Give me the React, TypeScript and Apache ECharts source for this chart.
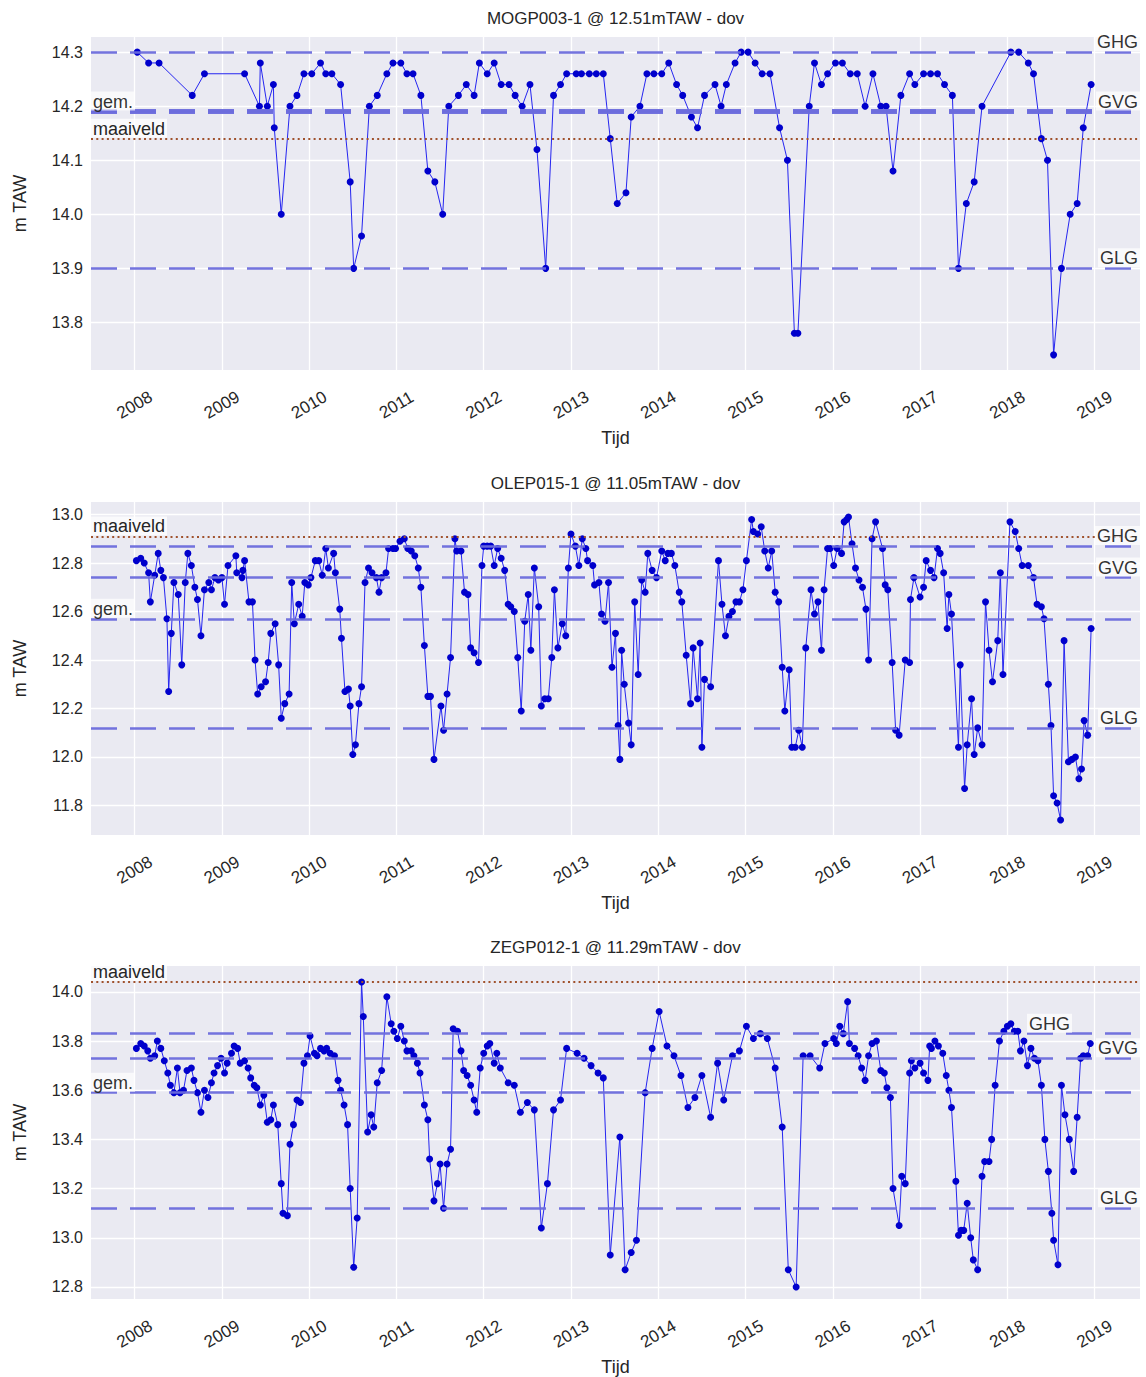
import React, { useEffect, useRef } from "react";
import * as echarts from "echarts";

const FONT = "'Liberation Sans', Arial, Helvetica, sans-serif";
const TEXT = "#262626";

const titles = [
  "MOGP003-1 @ 12.51mTAW - dov",
  "OLEP015-1 @ 11.05mTAW - dov",
  "ZEGP012-1 @ 11.29mTAW - dov",
];
const xName = "Tijd";
const yName = "m TAW";

// reference levels: GHG, GVG, gem., maaiveld, GLG
const refNames = ["GHG", "GVG", "gem.", "maaiveld", "GLG"];
const refs1 = [14.3, 14.194, 14.194, 14.14, 13.9];
const refs2 = [12.87, 12.74, 12.57, 12.91, 12.12];
const refs3 = [13.83, 13.73, 13.59, 14.04, 13.12];

const yMins = [13.712, 11.678, 12.751];
const yMaxs = [14.328, 13.052, 14.105];
const xMin = 2007.5;
const xMax = 2019.52;

// decimal years and measured levels (m TAW)
const dates1 = [
  2008.03, 2008.16, 2008.28, 2008.66, 2008.8, 2009.26, 2009.43, 2009.44, 2009.52, 2009.59,
  2009.6, 2009.68, 2009.78, 2009.86, 2009.94, 2010.03, 2010.13, 2010.19, 2010.26, 2010.36,
  2010.47, 2010.51, 2010.6, 2010.69, 2010.78, 2010.89, 2010.96, 2011.05, 2011.12, 2011.19,
  2011.28, 2011.36, 2011.44, 2011.53, 2011.6, 2011.71, 2011.8, 2011.89, 2011.95, 2012.04,
  2012.12, 2012.2, 2012.29, 2012.36, 2012.44, 2012.53, 2012.61, 2012.71, 2012.8, 2012.88,
  2012.95, 2013.06, 2013.12, 2013.21, 2013.29, 2013.37, 2013.45, 2013.53, 2013.63, 2013.69,
  2013.79, 2013.87, 2013.95, 2014.04, 2014.12, 2014.21, 2014.28, 2014.38, 2014.45, 2014.53,
  2014.65, 2014.72, 2014.78, 2014.88, 2014.95, 2015.03, 2015.11, 2015.19, 2015.28, 2015.39,
  2015.48, 2015.56, 2015.6, 2015.73, 2015.79, 2015.87, 2015.94, 2016.03, 2016.11, 2016.2,
  2016.28, 2016.37, 2016.46, 2016.55, 2016.61, 2016.69, 2016.78, 2016.88, 2016.94, 2017.04,
  2017.12, 2017.2, 2017.28, 2017.37, 2017.44, 2017.53, 2017.62, 2017.71, 2018.04, 2018.13,
  2018.24, 2018.3, 2018.39, 2018.46, 2018.53, 2018.62, 2018.72, 2018.8, 2018.87, 2018.96,
];
const levels1 = [
  14.3, 14.28, 14.28, 14.22, 14.26, 14.26, 14.2, 14.28, 14.2, 14.24,
  14.16, 14.0, 14.2, 14.22, 14.26, 14.26, 14.28, 14.26, 14.26, 14.24,
  14.06, 13.9, 13.96, 14.2, 14.22, 14.26, 14.28, 14.28, 14.26, 14.26,
  14.22, 14.08, 14.06, 14.0, 14.2, 14.22, 14.24, 14.22, 14.28, 14.26,
  14.28, 14.24, 14.24, 14.22, 14.2, 14.24, 14.12, 13.9, 14.22, 14.24,
  14.26, 14.26, 14.26, 14.26, 14.26, 14.26, 14.14, 14.02, 14.04, 14.18,
  14.2, 14.26, 14.26, 14.26, 14.28, 14.24, 14.22, 14.18, 14.16, 14.22,
  14.24, 14.2, 14.24, 14.28, 14.3, 14.3, 14.28, 14.26, 14.26, 14.16,
  14.1, 13.78, 13.78, 14.2, 14.28, 14.24, 14.26, 14.28, 14.28, 14.26,
  14.26, 14.2, 14.26, 14.2, 14.2, 14.08, 14.22, 14.26, 14.24, 14.26,
  14.26, 14.26, 14.24, 14.22, 13.9, 14.02, 14.06, 14.2, 14.3, 14.3,
  14.28, 14.26, 14.14, 14.1, 13.74, 13.9, 14.0, 14.02, 14.16, 14.24,
];

const dates2 = [
  2008.02, 2008.07, 2008.11, 2008.16, 2008.18, 2008.23, 2008.27, 2008.3, 2008.33, 2008.37,
  2008.39, 2008.42, 2008.45, 2008.5, 2008.54, 2008.58, 2008.61, 2008.65, 2008.69, 2008.72,
  2008.76, 2008.8, 2008.85, 2008.88, 2008.92, 2008.96, 2009.0, 2009.03, 2009.07, 2009.16,
  2009.17, 2009.23, 2009.24, 2009.26, 2009.31, 2009.35, 2009.38, 2009.41, 2009.45, 2009.5,
  2009.53, 2009.56, 2009.61, 2009.65, 2009.68, 2009.72, 2009.77, 2009.8, 2009.83, 2009.88,
  2009.92, 2009.95, 2009.99, 2010.02, 2010.07, 2010.11, 2010.15, 2010.19, 2010.22, 2010.28,
  2010.3, 2010.35, 2010.37, 2010.41, 2010.45, 2010.47, 2010.5, 2010.53, 2010.57, 2010.6,
  2010.64, 2010.68, 2010.72, 2010.77, 2010.8, 2010.83, 2010.88, 2010.91, 2010.96, 2010.99,
  2011.04, 2011.09, 2011.13, 2011.17, 2011.21, 2011.25, 2011.28, 2011.32, 2011.36, 2011.39,
  2011.43, 2011.51, 2011.54, 2011.58, 2011.62, 2011.67, 2011.69, 2011.74, 2011.78, 2011.82,
  2011.85, 2011.89, 2011.94, 2011.98, 2012.0, 2012.04, 2012.08, 2012.12, 2012.16, 2012.2,
  2012.24, 2012.28, 2012.31, 2012.35, 2012.39, 2012.43, 2012.47, 2012.51, 2012.54, 2012.58,
  2012.63, 2012.66, 2012.7, 2012.74, 2012.78, 2012.81, 2012.85, 2012.9, 2012.94, 2012.97,
  2013.0, 2013.05, 2013.09, 2013.13, 2013.17, 2013.19, 2013.25, 2013.27, 2013.32, 2013.35,
  2013.39, 2013.43, 2013.47, 2013.51, 2013.54, 2013.56, 2013.58, 2013.61, 2013.66, 2013.69,
  2013.73, 2013.77, 2013.81, 2013.85, 2013.88, 2013.93, 2013.98, 2014.04, 2014.08, 2014.11,
  2014.15, 2014.19, 2014.24, 2014.27, 2014.32, 2014.37, 2014.4, 2014.45, 2014.48, 2014.5,
  2014.53, 2014.6, 2014.69, 2014.73, 2014.77, 2014.81, 2014.85, 2014.89, 2014.93, 2014.97,
  2015.01, 2015.07, 2015.09, 2015.14, 2015.18, 2015.22, 2015.26, 2015.3, 2015.34, 2015.38,
  2015.42, 2015.45, 2015.5, 2015.53, 2015.57, 2015.61, 2015.65, 2015.69, 2015.75, 2015.79,
  2015.83, 2015.87, 2015.9, 2015.94, 2015.97, 2016.01, 2016.05, 2016.1, 2016.13, 2016.16,
  2016.18, 2016.22, 2016.26, 2016.3, 2016.34, 2016.38, 2016.41, 2016.45, 2016.49, 2016.57,
  2016.6, 2016.63, 2016.68, 2016.72, 2016.76, 2016.83, 2016.88, 2016.89, 2016.93, 2017.0,
  2017.04, 2017.07, 2017.12, 2017.16, 2017.2, 2017.23, 2017.27, 2017.31, 2017.33, 2017.36,
  2017.44, 2017.46, 2017.51, 2017.54, 2017.59, 2017.62, 2017.66, 2017.71, 2017.75, 2017.79,
  2017.83, 2017.89, 2017.92, 2017.95, 2018.03, 2018.09, 2018.13, 2018.17, 2018.24, 2018.3,
  2018.34, 2018.39, 2018.42, 2018.47, 2018.5, 2018.53, 2018.57, 2018.61, 2018.65, 2018.7,
  2018.74, 2018.78, 2018.82, 2018.85, 2018.88, 2018.92, 2018.96,
];
const levels2 = [
  12.81, 12.82, 12.8, 12.76, 12.64, 12.75, 12.84, 12.77, 12.74, 12.57,
  12.27, 12.51, 12.72, 12.67, 12.38, 12.72, 12.84, 12.79, 12.7, 12.65,
  12.5, 12.69, 12.72, 12.69, 12.74, 12.73, 12.74, 12.63, 12.79, 12.83,
  12.76, 12.74, 12.77, 12.81, 12.64, 12.64, 12.4, 12.26, 12.29, 12.31,
  12.39, 12.51, 12.55, 12.38, 12.16, 12.22, 12.26, 12.72, 12.55, 12.63,
  12.58, 12.72, 12.71, 12.74, 12.81, 12.81, 12.75, 12.86, 12.78, 12.84,
  12.76, 12.61, 12.49, 12.27, 12.28, 12.21, 12.01, 12.05, 12.22, 12.29,
  12.72, 12.78, 12.76, 12.74, 12.68, 12.74, 12.76, 12.86, 12.86, 12.86,
  12.89, 12.9, 12.86, 12.85, 12.83, 12.78, 12.7, 12.46, 12.25, 12.25,
  11.99, 12.21, 12.11, 12.26, 12.41, 12.9, 12.85, 12.85, 12.68, 12.67,
  12.45, 12.43, 12.39, 12.79, 12.87, 12.87, 12.87, 12.79, 12.86, 12.82,
  12.77, 12.63, 12.62, 12.6, 12.41, 12.19, 12.56, 12.67, 12.44, 12.78,
  12.62, 12.21, 12.24, 12.24, 12.41, 12.69, 12.45, 12.55, 12.5, 12.78,
  12.92, 12.87, 12.79, 12.9, 12.86, 12.81, 12.79, 12.71, 12.72, 12.59,
  12.56, 12.72, 12.37, 12.51, 12.13, 11.99, 12.44, 12.3, 12.14, 12.05,
  12.64, 12.34, 12.73, 12.68, 12.84, 12.77, 12.74, 12.85, 12.81, 12.84,
  12.84, 12.79, 12.68, 12.64, 12.42, 12.22, 12.45, 12.24, 12.47, 12.04,
  12.32, 12.29, 12.81, 12.63, 12.5, 12.58, 12.6, 12.64, 12.64, 12.69,
  12.81, 12.98, 12.93, 12.92, 12.95, 12.85, 12.78, 12.85, 12.68, 12.64,
  12.37, 12.19, 12.36, 12.04, 12.04, 12.11, 12.04, 12.45, 12.69, 12.59,
  12.64, 12.44, 12.69, 12.86, 12.86, 12.79, 12.86, 12.84, 12.97, 12.98,
  12.99, 12.88, 12.78, 12.73, 12.7, 12.61, 12.4, 12.9, 12.97, 12.86,
  12.71, 12.69, 12.39, 12.11, 12.09, 12.4, 12.39, 12.65, 12.74, 12.66,
  12.7, 12.81, 12.77, 12.74, 12.86, 12.84, 12.76, 12.53, 12.67, 12.59,
  12.04, 12.38, 11.87, 12.05, 12.24, 12.01, 12.12, 12.05, 12.64, 12.44,
  12.31, 12.48, 12.76, 12.34, 12.97, 12.93, 12.86, 12.79, 12.79, 12.74,
  12.63, 12.62, 12.57, 12.3, 12.13, 11.84, 11.81, 11.74, 12.48, 11.98,
  11.99, 12.0, 11.91, 11.95, 12.15, 12.09, 12.53,
];

const dates3 = [
  2008.02, 2008.07, 2008.11, 2008.15, 2008.18, 2008.23, 2008.26, 2008.3, 2008.34, 2008.38,
  2008.41, 2008.45, 2008.49, 2008.52, 2008.56, 2008.6, 2008.65, 2008.68, 2008.72, 2008.76,
  2008.8, 2008.84, 2008.88, 2008.91, 2008.95, 2008.99, 2009.03, 2009.06, 2009.11, 2009.14,
  2009.18, 2009.21, 2009.26, 2009.3, 2009.33, 2009.37, 2009.4, 2009.44, 2009.48, 2009.52,
  2009.56, 2009.59, 2009.64, 2009.68, 2009.7, 2009.75, 2009.78, 2009.82, 2009.86, 2009.9,
  2009.94, 2009.98, 2010.01, 2010.06, 2010.09, 2010.13, 2010.17, 2010.2, 2010.24, 2010.29,
  2010.33, 2010.36, 2010.4, 2010.44, 2010.47, 2010.51, 2010.55, 2010.6, 2010.62, 2010.67,
  2010.71, 2010.74, 2010.78, 2010.83, 2010.89, 2010.94, 2010.97, 2011.01, 2011.05, 2011.09,
  2011.12, 2011.17, 2011.2, 2011.24, 2011.27, 2011.32, 2011.36, 2011.38, 2011.43, 2011.47,
  2011.5, 2011.54, 2011.58, 2011.62, 2011.65, 2011.7, 2011.74, 2011.77, 2011.81, 2011.85,
  2011.89, 2011.92, 2011.96, 2012.0, 2012.04, 2012.07, 2012.12, 2012.15, 2012.19, 2012.28,
  2012.35, 2012.42, 2012.5, 2012.58, 2012.66, 2012.73, 2012.8, 2012.88, 2012.95, 2013.07,
  2013.15, 2013.23, 2013.31, 2013.37, 2013.45, 2013.56, 2013.62, 2013.69, 2013.75, 2013.85,
  2013.93, 2014.01, 2014.1, 2014.18, 2014.26, 2014.34, 2014.42, 2014.5, 2014.6, 2014.68,
  2014.75, 2014.85, 2014.93, 2015.01, 2015.09, 2015.17, 2015.25, 2015.34, 2015.42, 2015.49,
  2015.58, 2015.66, 2015.74, 2015.85, 2015.91, 2016.01, 2016.04, 2016.08, 2016.12, 2016.17,
  2016.19, 2016.25, 2016.29, 2016.33, 2016.37, 2016.41, 2016.45, 2016.5, 2016.55, 2016.59,
  2016.62, 2016.66, 2016.69, 2016.76, 2016.79, 2016.83, 2016.88, 2016.9, 2016.94, 2017.0,
  2017.04, 2017.09, 2017.11, 2017.13, 2017.17, 2017.21, 2017.26, 2017.3, 2017.33, 2017.36,
  2017.41, 2017.44, 2017.47, 2017.5, 2017.54, 2017.58, 2017.61, 2017.66, 2017.71, 2017.74,
  2017.79, 2017.82, 2017.86, 2017.91, 2017.96, 2018.0, 2018.04, 2018.08, 2018.12, 2018.15,
  2018.19, 2018.23, 2018.27, 2018.31, 2018.35, 2018.39, 2018.43, 2018.47, 2018.51, 2018.53,
  2018.58, 2018.62, 2018.66, 2018.71, 2018.76, 2018.8, 2018.84, 2018.87, 2018.92, 2018.95,
];
const levels3 = [
  13.77, 13.79, 13.78, 13.76, 13.73, 13.74, 13.8, 13.77, 13.72, 13.67,
  13.62, 13.59, 13.69, 13.59, 13.6, 13.68, 13.69, 13.64, 13.59, 13.51,
  13.6, 13.57, 13.63, 13.67, 13.7, 13.73, 13.67, 13.71, 13.75, 13.78,
  13.77, 13.71, 13.72, 13.69, 13.65, 13.62, 13.61, 13.54, 13.58, 13.47,
  13.48, 13.54, 13.46, 13.22, 13.1, 13.09, 13.38, 13.46, 13.56, 13.55,
  13.71, 13.74, 13.82, 13.75, 13.74, 13.77, 13.76, 13.77, 13.75, 13.74,
  13.64, 13.6, 13.54, 13.46, 13.2, 12.88, 13.08, 14.04, 13.9, 13.43,
  13.5, 13.45, 13.63, 13.68, 13.98, 13.87, 13.84, 13.81, 13.86, 13.8,
  13.76, 13.76, 13.74, 13.71, 13.67, 13.54, 13.48, 13.32, 13.15, 13.22,
  13.3, 13.12, 13.3, 13.36, 13.85, 13.84, 13.76, 13.68, 13.66, 13.62,
  13.56, 13.51, 13.69, 13.75, 13.78, 13.79, 13.71, 13.75, 13.69, 13.63,
  13.62, 13.51, 13.55, 13.52, 13.04, 13.22, 13.52, 13.56, 13.77, 13.75,
  13.73, 13.7, 13.67, 13.65, 12.93, 13.41, 12.87, 12.94, 12.99, 13.59,
  13.77, 13.92, 13.78, 13.74, 13.66, 13.53, 13.57, 13.66, 13.49, 13.71,
  13.56, 13.74, 13.76, 13.86, 13.81, 13.83, 13.81, 13.69, 13.45, 12.87,
  12.8, 13.74, 13.74, 13.69, 13.79, 13.81, 13.79, 13.86, 13.83, 13.96,
  13.79, 13.77, 13.74, 13.69, 13.64, 13.74, 13.79, 13.8, 13.68, 13.67,
  13.61, 13.57, 13.2, 13.05, 13.25, 13.22, 13.67, 13.72, 13.69, 13.71,
  13.67, 13.64, 13.78, 13.77, 13.8, 13.78, 13.75, 13.66, 13.6, 13.53,
  13.23, 13.01, 13.03, 13.03, 13.14, 13.0, 12.91, 12.87, 13.25, 13.31,
  13.31, 13.4, 13.62, 13.8, 13.84, 13.86, 13.87, 13.84, 13.84, 13.76,
  13.8, 13.7, 13.77, 13.73, 13.72, 13.62, 13.4, 13.27, 13.1, 12.99,
  12.89, 13.62, 13.5, 13.4, 13.27, 13.49, 13.73, 13.74, 13.74, 13.79,
];

const panels = [
  { dates: dates1, levels: levels1, refs: refs1 },
  { dates: dates2, levels: levels2, refs: refs2 },
  { dates: dates3, levels: levels3, refs: refs3 },
];

// layout
const GRID_TOPS = [37, 502, 966];
const PLOT_H = 333;
const GRID_LEFT = 91;
const GRID_RIGHT = 6;
const PLOT_CX = 615.5;
// horizontal inset of the GHG label in the third panel
const labelInset = [
  [0, 0, 0, 0, 0],
  [0, 0, 0, 0, 0],
  [68, 0, 0, 0, 0],
];
// in the first panel GVG and gem. coincide and read as one thick band
const refWidths = [
  [2.6, 2.6, 5.2, 2, 2.6],
  [2.6, 2.6, 2.6, 2, 2.6],
  [2.6, 2.6, 2.6, 2, 2.6],
];

const REF_COLOR = "#6C6CDC";
const GROUND_COLOR = "#A0522D";

function isInt(v: number) {
  return Math.abs(v - Math.round(v)) < 1e-6;
}

function buildOption() {
  const grid = GRID_TOPS.map((top) => ({
    left: GRID_LEFT,
    right: GRID_RIGHT,
    top,
    height: PLOT_H,
    show: true,
    backgroundColor: "#EAEAF2",
    borderWidth: 0,
  }));

  const xAxis = GRID_TOPS.map((_, i) => ({
    type: "value",
    gridIndex: i,
    min: xMin,
    max: xMax,
    splitNumber: 12,
    axisLine: { show: false },
    axisTick: { show: false },
    splitLine: {
      show: true,
      showMinLine: false,
      showMaxLine: false,
      lineStyle: { color: "#ffffff", width: 1.3 },
    },
    axisLabel: {
      rotate: 30,
      margin: 35,
      align: "center",
      verticalAlign: "middle",
      showMinLabel: false,
      showMaxLabel: false,
      fontSize: 17,
      color: TEXT,
      fontFamily: FONT,
      formatter: (v: number) => (isInt(v) ? String(Math.round(v)) : ""),
    },
    name: xName,
    nameLocation: "middle",
    nameGap: 59,
    nameTextStyle: { fontSize: 18, color: TEXT, fontFamily: FONT },
  }));

  const yAxis = GRID_TOPS.map((_, i) => ({
    type: "value",
    gridIndex: i,
    min: yMins[i],
    max: yMaxs[i],
    splitNumber: 6,
    axisLine: { show: false },
    axisTick: { show: false },
    splitLine: {
      show: true,
      showMinLine: false,
      showMaxLine: false,
      lineStyle: { color: "#ffffff", width: 1.3 },
    },
    axisLabel: {
      margin: 8,
      showMinLabel: false,
      showMaxLabel: false,
      fontSize: 16,
      color: TEXT,
      fontFamily: FONT,
      formatter: (v: number) => v.toFixed(1),
    },
    name: yName,
    nameLocation: "middle",
    nameGap: 62,
    nameRotate: 90,
    nameTextStyle: { fontSize: 18, color: TEXT, fontFamily: FONT },
  }));

  const series: any[] = [];
  panels.forEach((p, i) => {
    series.push({
      type: "line",
      xAxisIndex: i,
      yAxisIndex: i,
      data: [],
      z: 1,
      silent: true,
      markLine: {
        silent: true,
        symbol: ["none", "none"],
        animation: false,
        data: p.refs.map((val, k) => {
          const name = refNames[k];
          const ground = name === "maaiveld";
          const left = name === "gem." || name === "maaiveld";
          return {
            yAxis: val,
            lineStyle: ground
              ? { type: [2, 3.3], color: GROUND_COLOR, width: refWidths[i][k], opacity: 1 }
              : { type: [26, 13], color: REF_COLOR, width: refWidths[i][k], opacity: 0.95 },
            label: {
              show: true,
              formatter: name,
              position: left ? "insideStartTop" : "insideEndTop",
              distance: [labelInset[i][k], 1],
              fontSize: 18,
              color: TEXT,
              fontFamily: FONT,
              backgroundColor: "rgba(255,255,255,0.75)",
              padding: [1, 2, 0, 2],
            },
          };
        }),
      },
    });
    series.push({
      type: "line",
      xAxisIndex: i,
      yAxisIndex: i,
      z: 3,
      data: p.dates.map((d, k) => [d, p.levels[k]]),
      symbol: "circle",
      symbolSize: 7,
      showSymbol: true,
      itemStyle: { color: "#0000CC", borderWidth: 0 },
      lineStyle: { color: "#2525F0", width: 1 },
      emphasis: { disabled: true },
      silent: true,
    });
  });

  const graphic = titles.map((t, i) => ({
    type: "text",
    x: PLOT_CX,
    y: GRID_TOPS[i] - 19,
    style: {
      text: t,
      align: "center",
      verticalAlign: "middle",
      textAlign: "center",
      textVerticalAlign: "middle",
      fontSize: 17,
      fontFamily: FONT,
      fill: TEXT,
    },
  }));

  return {
    animation: false,
    backgroundColor: "#ffffff",
    grid,
    xAxis,
    yAxis,
    series,
    graphic,
  };
}

export default function App() {
  const ref = useRef<HTMLDivElement>(null);
  useEffect(() => {
    document.body.style.margin = "0";
    const chart = echarts.init(ref.current as HTMLDivElement, undefined, { renderer: "svg" });
    chart.setOption(buildOption() as any);
    return () => chart.dispose();
  }, []);
  return <div ref={ref} style={{ width: 1146, height: 1377 }} />;
}
